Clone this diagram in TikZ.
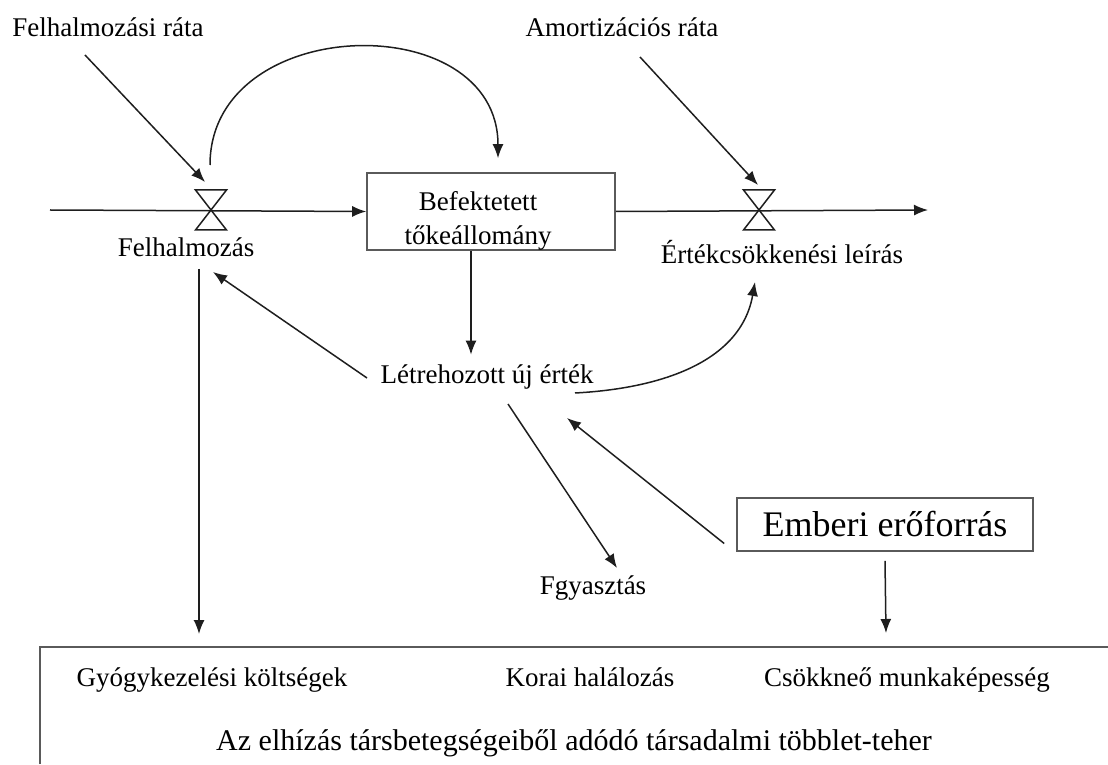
\documentclass[tikz,border=0pt]{standalone}
\usepackage{fontspec}
\setmainfont{Liberation Serif}
\usetikzlibrary{arrows.meta,positioning,calc}
\definecolor{Ink}{RGB}{30,30,30}
\definecolor{Frame}{RGB}{90,90,90}
\tikzset{
  >=Latex,
  label/.style={font=\fontsize{27}{30}\selectfont,text=black,align=center,inner sep=0pt,text height=18.4pt,text depth=5.9pt},
  multi/.style={font=\fontsize{27}{34}\selectfont,text=black,align=center,inner sep=0pt},
  stockbox/.style={draw=Frame,line width=1.6pt,minimum width=248pt,minimum height=77pt,inner sep=0pt},
  sourcebox/.style={draw=Frame,line width=1.6pt,font=\fontsize{36}{40}\selectfont,minimum width=296pt,minimum height=53pt,inner sep=0pt},
  flow/.style={-{Latex[length=14pt,width=11pt]},line width=1.5pt,draw=Ink},
  link/.style={-{Latex[length=14pt,width=11pt]},line width=1.5pt,draw=Ink},
  valve/.pic={\draw[line width=1.5pt,draw=Ink,fill=white] (-15.5,20) -- (15.5,20) -- (-15.5,-20) -- (15.5,-20) -- cycle;}
}
\begin{document}
\begin{tikzpicture}[x=1pt,y=1pt]
  \useasboundingbox (0,0) rectangle (1108,764);
  % stock and flow row
  \node[stockbox] (stock) at (491,552.5) {};
  \node[multi] (stocktext) at (478,543) {Befektetett\\tőkeállomány};
  \coordinate (v1) at (211,554);
  \coordinate (v2) at (759,554);
  \coordinate (src) at (50,554);
  \coordinate (sink) at (928,554);
  \draw[flow] (src) -- (stock.west);
  \draw[flow] (stock.east) -- (sink);
  \pic at (v1) {valve};
  \pic at (v2) {valve};
  % labels
  \node[label] (rin) at (108,734) {Felhalmozási ráta};
  \node[label] (rdep) at (622,734) {Amortizációs ráta};
  \node[label] (acc) at (186,514) {Felhalmozás};
  \node[label] (dep) at (782,507) {Értékcsökkenési leírás};
  \node[label] (newval) at (487,387) {Létrehozott új érték};
  \node[label] (cons) at (593,176) {Fgyasztás};
  \node[sourcebox] (human) at (885,239.5) {Emberi erőforrás};
  % burden box, open to the right and bottom
  \coordinate (bl) at (40,0);
  \coordinate (tl) at (40,117);
  \coordinate (tr) at (1108,117);
  \draw[line width=1.6pt,draw=Frame] (bl) -- (tl) -- (tr);
  \node[label] (cost) at (212,84) {Gyógykezelési költségek};
  \node[label] (death) at (590,84) {Korai halálozás};
  \node[label] (work) at (907,84) {Csökkneő munkaképesség};
  \node[label,font=\fontsize{30}{34}\selectfont,text height=20pt,text depth=6.5pt] (burden) at (574,20) {Az elhízás társbetegségeiből adódó társadalmi többlet-teher};
  % links
  \coordinate (acctop) at (199,495);
  \coordinate (accend) at (199,130);
  \draw[link] (85,709) -- (205,582);
  \draw[link] (640,707) -- (758,579);
  \draw[link] ($(v1)+(-1,45)$) to[out=90,in=90,looseness=1.35] ($(stock.north)+(7,14)$);
  \draw[link] ([xshift=-20pt]stock.south) -- ([xshift=-16pt,yshift=10pt]newval.north);
  \draw[link] (acctop) -- (accend);
  \draw[link] ([xshift=-120pt,yshift=-1pt]newval.center) -- (213,492);
  \draw[link] ([xshift=88pt,yshift=-16pt]newval.center) to[out=3,in=-100] (755,482);
  \draw[link] ([xshift=21pt,yshift=-27pt]newval.center) -- (617,196);
  \draw[link] ([xshift=-12pt,yshift=-19pt]human.west) -- (567,346);
  \draw[link] ([yshift=-9pt]human.south) -- (886,131);
\end{tikzpicture}
\end{document}
